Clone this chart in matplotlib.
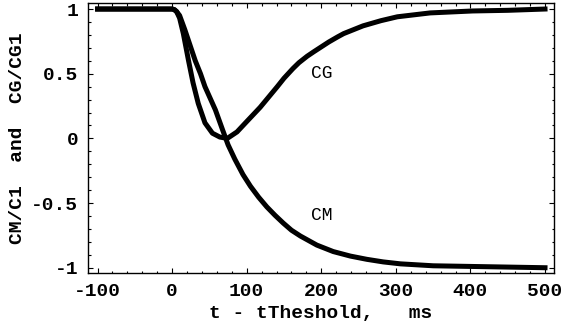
import matplotlib
matplotlib.use("Agg")
import matplotlib.pyplot as plt
from matplotlib.ticker import MultipleLocator, FixedLocator, FixedFormatter

# values
t_cg = [-100, 0, 3, 6, 10, 15, 22, 28, 35, 44, 54, 64, 74, 87, 100, 118, 141,
        150, 162, 170, 181, 190, 202, 210, 222, 230, 256, 280, 302, 346, 403,
        450, 500]
cg = [1.0, 1.0, 0.995, 0.98, 0.93, 0.81, 0.60, 0.43, 0.27, 0.12, 0.04, 0.01, 0.0,
      0.05, 0.13, 0.24, 0.40, 0.465, 0.54, 0.585, 0.635, 0.67, 0.715, 0.745, 0.785,
      0.81, 0.87, 0.91, 0.94, 0.97, 0.985, 0.99, 1.0]

t_cm = [-100, 0, 3, 6, 10, 17, 24, 31, 38, 44, 51, 58, 68, 75, 84, 95, 105, 116,
        127, 138, 149, 160, 172, 194, 216, 239, 261, 283, 306, 350, 400, 450, 500]
cm = [1.0, 1.0, 0.995, 0.98, 0.95, 0.84, 0.72, 0.60, 0.50, 0.40, 0.31, 0.22, 0.06,
      -0.05, -0.16, -0.28, -0.37, -0.455, -0.53, -0.595, -0.655, -0.71, -0.755,
      -0.825, -0.875, -0.91, -0.935, -0.955, -0.97, -0.985, -0.99, -0.995, -1.0]

y_ticks = [-1, -0.5, 0, 0.5, 1]
y_tick_labels = ["-1", "-0.5", "0", "0.5", "1"]
x_ticks = [-100, 0, 100, 200, 300, 400, 500]

plt.rcParams['font.family'] = ['Liberation Mono', 'DejaVu Sans Mono']
plt.rcParams['axes.unicode_minus'] = False

fig = plt.figure(figsize=(5.67, 3.28), dpi=100)
ax = fig.add_axes([0.155, 0.168, 0.822, 0.823])

ax.plot(t_cg, cg, color='black', lw=3.6, solid_joinstyle='round')
ax.plot(t_cm, cm, color='black', lw=3.6, solid_joinstyle='round')

ax.text(201, 0.50, "CG", fontsize=13, ha='center', va='center')
ax.text(201, -0.60, "CM", fontsize=13, ha='center', va='center')

ax.set_xlim(-113, 512)
ax.set_ylim(-1.04, 1.047)

ax.xaxis.set_major_locator(FixedLocator(x_ticks))
ax.xaxis.set_minor_locator(MultipleLocator(20))
ax.yaxis.set_major_locator(FixedLocator(y_ticks))
ax.yaxis.set_major_formatter(FixedFormatter(y_tick_labels))
ax.yaxis.set_minor_locator(MultipleLocator(0.1))

ax.tick_params(which='both', direction='in', top=True, right=True, width=0.8)
ax.tick_params(which='major', length=3.5, labelsize=14, pad=7)
ax.tick_params(which='minor', length=1.8)
for lab in ax.get_xticklabels() + ax.get_yticklabels():
    lab.set_fontweight('bold')
for s in ax.spines.values():
    s.set_linewidth(1.0)

ax.set_xlabel("t - tTheshold,   ms", fontsize=14, fontweight='bold', labelpad=4)
ax.set_ylabel("CM/C1  and  CG/CG1", fontsize=14, fontweight='bold', labelpad=4)

fig.savefig("out.png", dpi=100)
